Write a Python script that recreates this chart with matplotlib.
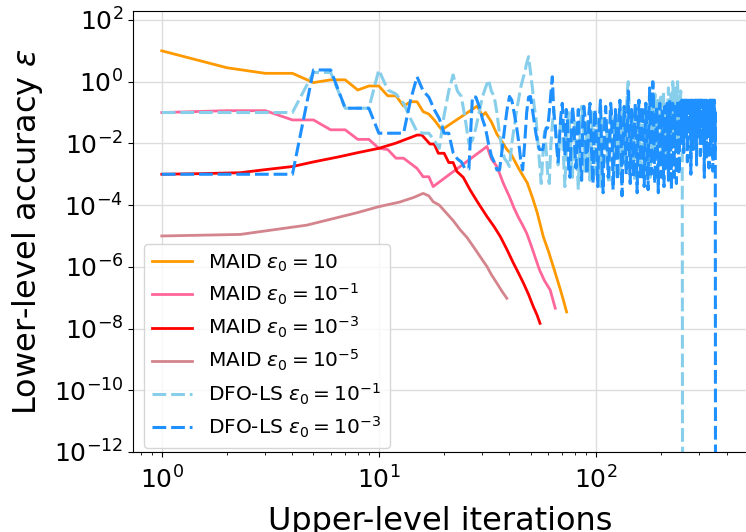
import numpy as np
import matplotlib
matplotlib.use("Agg")
import matplotlib.pyplot as plt

# -------------------- MAID runs (iteration, log10 eps) --------------------
maid10_x = [1, 2, 3, 4, 5, 6, 7, 8, 9, 10, 11, 12, 13, 14, 15, 16, 17, 18, 19.5,
            28.4, 30, 31, 33, 35, 37, 39, 40.4, 44, 48.3, 51, 53.7, 57.3, 60.5, 63.7,
            66, 68.7, 71, 73.3]
maid10_e = [1.0, 0.45, 0.27, 0.27, -0.03, 0.06, 0.06, -0.27, -0.14, -0.14, -0.46, -0.46,
            -0.79, -0.65, -0.65, -0.97, -1.05, -1.24, -1.56,
            -0.79, -1.1, -1.0, -1.3, -1.7, -1.95, -2.21, -2.31, -2.8, -3.28, -3.75, -4.25,
            -5.03, -5.5, -6.0, -6.35, -6.75, -7.1, -7.46]

maid1_x = [1, 2, 3, 4, 5, 6, 7, 8, 9, 10, 11, 12, 13, 14, 15, 16, 17, 17.8,
           31.5, 33, 35, 37.5, 40, 42, 44, 46, 48, 50, 52, 55, 58, 61.6, 65]
maid1_e = [-1.0, -0.94, -0.94, -1.24, -1.24, -1.56, -1.56, -1.87, -1.87, -2.16, -2.2,
           -2.48, -2.48, -2.65, -2.81, -3.08, -3.08, -3.4,
           -2.1, -2.5, -2.75, -3.3, -3.73, -4.1, -4.4, -4.65, -4.91, -5.25, -5.6, -6.1,
           -6.45, -6.75, -7.34]

maid3_x = [1, 1.5, 2.3, 3, 4, 5, 6.6, 8, 10, 12, 15, 15.8, 17.2, 18, 18.8, 20, 21, 22,
           22.9, 24.5, 26.3, 28.5, 31.5, 34, 36.3, 39, 41.7, 44, 46.4, 49, 51.5, 53.5, 55.3]
maid3_e = [-3.0, -2.98, -2.95, -2.85, -2.75, -2.6, -2.43, -2.3, -2.16, -1.99, -1.73, -1.73,
           -2.02, -2.02, -2.32, -2.32, -2.62, -2.62, -2.91, -3.1, -3.5, -3.9, -4.37, -4.7,
           -5.02, -5.45, -5.88, -6.2, -6.53, -6.9, -7.29, -7.55, -7.83]

maid5_x = [1, 2.3, 4.65, 7.9, 10, 12.5, 14.5, 16, 17, 17.8, 19, 20.5, 22, 23.7, 25.5,
           27.3, 29.5, 31.5, 33, 35, 37, 38.9]
maid5_e = [-5.0, -4.95, -4.65, -4.25, -4.05, -3.9, -3.75, -3.62, -3.7, -3.89, -4.0, -4.26,
           -4.5, -4.8, -5.05, -5.35, -5.7, -5.99, -6.25, -6.53, -6.8, -7.02]

# -------------------- DFO-LS runs (one value per iteration, log10 eps) --------------------
dfo1_e = [
    -1.0, -1.0, -1.0, -1.0, 0.3, 0.3, -0.86, -0.86, -0.86, 0.38,
    -0.27, -0.4, -0.7, -1.2, -1.62, -1.67, -1.67, -1.9, -2.16, -1.08,
    -0.3, 0.22, -0.3, -0.48, -1.2, -2.0, -1.9, -1.5, -1.0, -0.5,
    -0.2, 0.06, -0.3, -0.48, -1.0, -1.7, -2.2, -2.5, -2.6, -2.75,
    -2.0, -1.5, -1.0, -0.6, -0.2, 0.06, 0.3, 0.6, 0.81, 0.3,
    -0.2, -0.8,
    -1.2, -1.9, -2.6, -3.3, -2.4, -1.6, -2.2, -3.0, -3.3, -2.1, -1.4, -0.9, -1.5, -2.0, -2.7, -1.8, -1.1, -1.6, -2.5, -3.4,
    -2.3, -1.5, -1.0, -1.7, -2.4, -3.1, -2.0, -1.3, -1.8, -2.6, -3.5, -2.2, -1.4, -0.8, -1.2, -2.1, -2.9, -1.9, -1.3, -1.7,
    -2.5, -3.2, -2.3, -1.5, -1.0, -1.6, -2.4, -3.0, -1.8, -1.2, -1.9, -2.7, -3.4, -2.1, -1.4, -1.1, -1.7, -2.6, -1.9, -1.3,
    -2.0, -2.8, -3.3, -2.2, -1.5, -1.0, -1.4, -2.3, -3.1, -2.0, -1.2, -1.7, -2.5, -1.6, -1.0, -1.5, -2.2, -3.0, -2.4, -1.3,
    -0.8, -1.2, -2.0, -2.7, -1.8, -1.1, -0.6, -0.2, 0.0, -0.5, -1.3, -2.1, -2.8, -1.9, -1.4, -1.0, -1.6, -2.4, -3.2, -2.0,
    -1.3, -0.9, -1.5, -2.3, -1.7, -1.1, -1.8, -2.6, -3.0, -2.1, -1.4, -1.0, -1.6, -2.2, -2.9, -1.9, -1.2, -0.7, -1.3, -2.0,
    -2.7, -1.8, -1.1, -1.5, -2.4, -3.1, -2.0, -1.3, -0.9, -0.5, -1.4, -2.2, -1.6, -1.0, -0.4, -0.8, -1.7, -2.5, -1.9, -1.2,
    -0.6, -1.1, -2.0, -2.8, -1.7, -1.0, -0.5, -0.9, -1.6, -2.3, -1.5, -0.8, -0.3, -1.2, -2.1, -2.6, -1.4, -0.7, -1.0, -1.8,
    -2.4, -1.3, -0.6, -0.2, -0.9, -1.5, -2.2, -1.6, -0.8, -0.4, -1.1, -1.9, -1.2, 0.0, -0.3, -0.7, -1.4, -2.0, -1.3, -0.5,
    -0.2, -0.9, -1.6, -2.1, -0.1, 0.0, -0.6, -1.3, -1.0, -0.4, -1.1, -1.8, -0.8, -0.3, -1.2, -0.7, -1.5, -1.0,
    -16.0]

dfo3_e = [
    -3.0, -3.0, -3.0, -3.0, 0.38, 0.38, -0.86, -0.86, -0.86, -1.67,
    -1.67, -1.67, -1.67, -0.6, 0.16, -0.3, -0.5, -0.9, -1.2, -1.67,
    -1.67, -2.3, -2.5, -2.6, -2.83, -2.83, -0.48, -0.5, -0.8, -1.2,
    -1.5, -2.0, -2.4, -2.6, -2.86, -2.86, -2.2, -1.5, -0.9, -0.48,
    -0.6, -1.0, -1.4, -1.9, -2.5, -2.86, -2.0, -1.0, -0.5, -0.48,
    -0.9, -1.3, -1.7, -2.0, -2.2, -2.2, -2.2, -1.8, -1.5, -1.5,
    -1.0, -0.4, 0.16,
    -1.0, -1.4, -2.1, -2.6, -1.8, -1.1, -0.7, -1.5, -2.4, -0.9, -1.3, -2.9, -3.1, -1.7, -0.8, -1.2, -2.2, -2.8, -1.6, -0.9,
    -1.9, -2.7, -3.2, -1.4, -0.8, -1.1, -2.3, -3.0, -2.1, -1.0, -0.7, -1.8, -2.6, -3.3, -1.5, -0.9, -1.3, -2.5, -3.4, -2.0,
    -1.1, -0.6, -1.7, -2.9, -3.6, -2.2, -1.2, -0.8, -1.6, -2.4, -3.1, -2.7, -1.4, -0.7, -1.0, -2.0, -3.5, -2.8, -1.5, -0.9,
    -1.8, -2.6, -3.2, -1.9, -1.1, -0.6, -1.3, -2.2, -3.7, -2.5, -1.6, -0.8, -1.2, -2.1, -3.0, -2.4, -1.0, -0.3, -1.4, -2.7,
    -3.3, -1.8, -0.9, -1.5, -2.3, -3.1, -2.0, -1.2, -0.7, -1.7, -2.8, -3.6, -2.2, -1.1, -0.6, -1.4, -2.5, -3.2, -1.9, -1.0,
    -0.8, -1.6, -2.4, -3.4, -2.6, -1.3, -0.7, -1.1, -2.0, -2.9, -3.5, -1.8, -0.9, -0.2, -1.5, -2.3, -3.0, -2.1, -1.2, 0.0,
    -0.6, -1.7, -2.6, -3.3, -2.4, -1.3, -0.8, -1.0, -1.9, -2.8, -3.6, -2.1, -1.1, -0.7, -1.5, -2.4, -3.1, -1.8, -0.9, -1.2,
    -2.2, -3.0, -3.4, -1.6, -0.8, -1.3, -2.5, -2.9, -1.7, -0.7, -1.1, -2.0, -3.2, -2.3, -1.4, -0.6, -1.0, -1.8, -2.7, -3.5,
    -2.0, -1.2, -0.7, -1.5, -2.6, -3.1, -1.9, -1.0, -0.8, -1.6, -2.4, -3.3, -2.2, -1.3, -0.6, -1.1, -1.9, -2.8, -3.0, -1.7,
    -0.9, -0.6, -0.6, -1.2, -2.0, -0.6, -0.7, -1.5, -0.6, -1.0, -2.3, -0.8, -0.6, -1.4, -0.7, -0.6, -1.9, -1.1, -0.6, -0.8,
    -2.6, -1.3, -0.6, -0.7, -1.0, -0.6, -1.7, -0.9, -0.6, -1.2, -3.0, -0.7, -0.6, -1.5, -0.8, -0.6, -1.1, -2.2, -0.7, -0.6,
    -1.3, -0.6, -0.9, -1.8, -0.6, -0.7, -1.0, -2.7, -0.6, -1.4, -0.8, -0.6, -1.1, -1.9, -0.6, -0.7, -1.6, -0.6, -0.9, -2.4,
    -0.6, -1.2, -0.7, -0.6, -1.5, -0.8, -0.6, -2.0, -1.0, -0.6, -0.7, -1.3, -3.1, -0.6, -0.9, -1.7, -0.6, -0.8, -1.1, -2.5,
    -0.6, -0.7, -1.4, -0.6, -1.0, -1.8, -0.6, -0.8, -2.8, -1.2, -0.6, -0.7, -1.6, -0.6, -0.9, -2.1, -0.7, -0.6, -1.3, -1.0,
    -0.6, -1.5, -2.9, -0.8, -0.6, -1.1, -1.9, -0.7, -0.6, -1.4, -2.2, -1.0, -16.0]

labels = [r'MAID $\varepsilon_0 = 10$', r'MAID $\varepsilon_0 = 10^{-1}$',
          r'MAID $\varepsilon_0 = 10^{-3}$', r'MAID $\varepsilon_0 = 10^{-5}$',
          r'DFO-LS $\varepsilon_0 = 10^{-1}$', r'DFO-LS $\varepsilon_0 = 10^{-3}$']

# -------------------- Plot --------------------
fig = plt.figure(figsize=(7.46, 5.32), dpi=100)
ax = fig.add_axes([133/746, 80/532, 614/746, 441/532])

ax.plot(maid10_x, 10.0**np.array(maid10_e), color='#ff9900', lw=2, label=labels[0])
ax.plot(maid1_x, 10.0**np.array(maid1_e), color='#ff6699', lw=2, label=labels[1])
ax.plot(maid3_x, 10.0**np.array(maid3_e), color='#ff0000', lw=2, label=labels[2])
ax.plot(maid5_x, 10.0**np.array(maid5_e), color='#d4848c', lw=2, label=labels[3])

dash = (0, (4.5, 1.6))
ax.plot(np.arange(1, len(dfo1_e)+1), 10.0**np.array(dfo1_e), color='#87ceeb',
        lw=2.2, ls=dash, label=labels[4])
ax.plot(np.arange(1, len(dfo3_e)+1), 10.0**np.array(dfo3_e), color='#1e90ff',
        lw=2.2, ls=dash, label=labels[5])

ax.set_xscale('log')
ax.set_yscale('log')
ax.set_xlim(0.737, 497)
ax.set_ylim(1e-12, 195)
ax.set_yticks([10.0**k for k in range(-12, 3, 2)])
ax.yaxis.set_minor_locator(matplotlib.ticker.NullLocator())
ax.grid(True, which='major', color='#dddddd', lw=1)
ax.tick_params(axis='both', which='major', labelsize=18)
ax.tick_params(axis='x', which='major', pad=7)

ax.set_xlabel('Upper-level iterations', fontsize=23, labelpad=9)
ax.set_ylabel(r'Lower-level accuracy $\varepsilon$', fontsize=23, labelpad=6)
ax.legend(loc='lower left', bbox_to_anchor=(11/614, 4/441), borderaxespad=0,
          fontsize=14.5, labelspacing=0.4)

fig.savefig('out.png', dpi=100)
